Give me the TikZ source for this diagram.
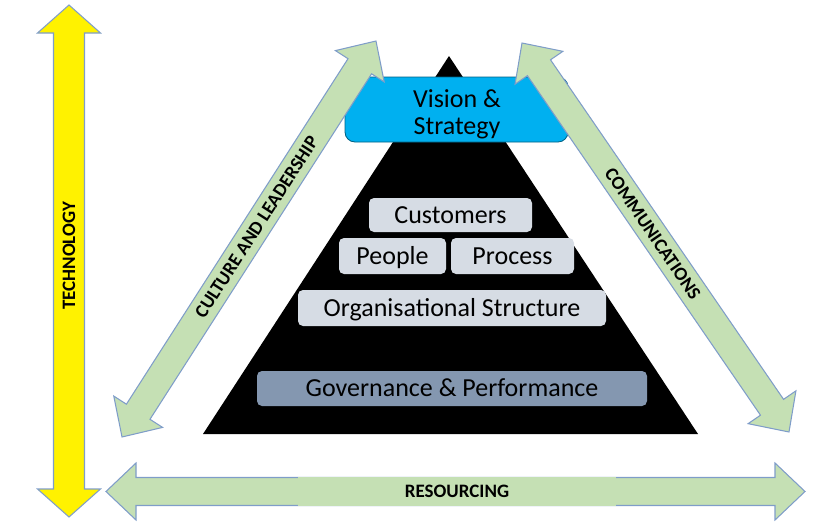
\documentclass[tikz,border=0pt]{standalone}
\usepackage{fontspec}
\setmainfont{Carlito}
\usetikzlibrary{calc}

\definecolor{boxgrey}{HTML}{D6DCE4}
\definecolor{govblue}{HTML}{8497B0}
\definecolor{visionblue}{HTML}{00B0F0}
\definecolor{arrowgreen}{HTML}{C5E0B4}
\definecolor{arrowline}{HTML}{7F9DC9}

\def\px{0.02cm}

\newcommand{\twoway}[6]{%
\draw[#1] let \p1=($(#3)-(#2)$), \n1={atan2(\y1,\x1)} in
  (#2) -- ($(#2)+(\n1:#6*\px)+(\n1+90:#5*\px)$) -- ($(#2)+(\n1:#6*\px)+(\n1+90:#4*\px)$)
  -- ($(#3)+(\n1:-#6*\px)+(\n1+90:#4*\px)$) -- ($(#3)+(\n1:-#6*\px)+(\n1+90:#5*\px)$)
  -- (#3) -- ($(#3)+(\n1:-#6*\px)+(\n1-90:#5*\px)$) -- ($(#3)+(\n1:-#6*\px)+(\n1-90:#4*\px)$)
  -- ($(#2)+(\n1:#6*\px)+(\n1-90:#4*\px)$) -- ($(#2)+(\n1:#6*\px)+(\n1-90:#5*\px)$) -- cycle;}

\begin{document}
\begin{tikzpicture}[x=\px,y=-\px]
\tikzstyle{level}=[fill=boxgrey,rounded corners=0.1cm,inner sep=0pt,text height=12pt,text depth=2.5pt,font=\fontsize{14.8}{17}\selectfont]
\tikzstyle{vision}=[fill=visionblue,draw=visionblue!55!black,line width=0.5pt,rounded corners=0.2cm,inner sep=0pt]
\tikzstyle{greenarrow}=[fill=arrowgreen,draw=arrowline,line width=0.6pt,line join=miter]
\tikzstyle{yellowarrow}=[fill=yellow,draw=arrowline,line width=0.6pt,line join=miter]
\tikzstyle{tag}=[inner sep=0pt,font=\fontsize{10.8}{13}\selectfont\bfseries]

\useasboundingbox (0,0) rectangle (840,524);

\coordinate (apex) at (449,56);
\coordinate (baseL) at (203,434);
\coordinate (baseR) at (698,434);
\fill[black] (apex) -- (baseR) -- (baseL) -- cycle;

\node[vision,minimum width=223*\px,minimum height=65*\px] (vision) at (456.5,109.5) {};

\coordinate (tech-top) at (69,5);
\coordinate (tech-bot) at (69,517);
\coordinate (res-l) at (106,491.5);
\coordinate (res-r) at (805,491.5);
\coordinate (cul-a) at (122,437);
\coordinate (cul-b) at (376,41);
\coordinate (com-a) at (522,43);
\coordinate (com-b) at (789,432);

\twoway{yellowarrow}{tech-bot}{tech-top}{15.5}{31.5}{28}
\twoway{greenarrow}{res-l}{res-r}{14}{28.5}{30}
\twoway{greenarrow}{cul-a}{cul-b}{14}{29}{30}
\twoway{greenarrow}{com-a}{com-b}{14}{29}{30}

\node[align=center,inner sep=0pt,font=\fontsize{14.8}{15.5}\selectfont] (vision-text) at (457,114) {Vision \&\\Strategy};

\node[level,minimum width=163*\px,minimum height=34*\px] (customers) at (450.5,215) {Customers};
\node[level,minimum width=107*\px,minimum height=36*\px] (people) at (392.5,256) {People};
\node[level,minimum width=123*\px,minimum height=36*\px] (process) at (512.5,256) {Process};
\node[level,minimum width=308*\px,minimum height=36*\px] (structure) at (452,308) {Organisational Structure};
\node[level,fill=govblue,minimum width=390*\px,minimum height=35*\px] (governance) at (452,388.5) {Governance \& Performance};

\node[tag,rotate=90] (technology) at ($(tech-bot)!0.51!(tech-top)$) {TECHNOLOGY};
\node[tag,rotate=57.2] (culture) at ($(cul-a)!0.53!(cul-b)$) {CULTURE AND LEADERSHIP};
\node[tag,rotate=-55.5] (comms) at ($(com-a)!0.49!(com-b)$) {COMMUNICATIONS};
\node[tag,fill=arrowgreen,minimum width=318*\px,minimum height=29*\px] (resourcing) at (457,491.5) {RESOURCING};

\end{tikzpicture}
\end{document}
